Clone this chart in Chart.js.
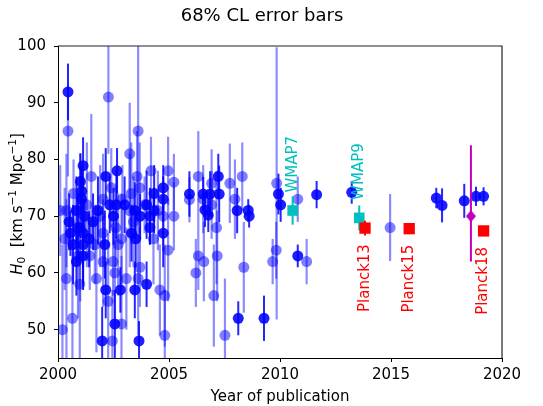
<!DOCTYPE html>
<html>
<head>
<meta charset="utf-8">
<title>H0 measurements</title>
<script src="https://cdn.jsdelivr.net/npm/chart.js@4"></script>
<style>
  html, body { margin: 0; padding: 0; background: #fff; }
</style>
</head>
<body>
<canvas id="h0Chart" width="543" height="406"></canvas>
<script>
// --- axis ticks ---
const xTicks = [2000, 2005, 2010, 2015, 2020];
const yTicks = [50, 60, 70, 80, 90, 100];

// --- individual measurements, lower weight ---
const faintYear = [2000.45, 2002.27, 2003.61, 2003.23, 2003.56, 2003.68, 2004.19, 2004.96, 2005.22, 2000.38,
  2002.03, 2003.23, 2004.74, 2005.22, 2002.03, 2002.86, 2001.66, 2002.71, 2004.96, 2002.03,
  2002.48, 2001.43, 2003.69, 2000.38, 2000.98, 2001.73, 2002.56, 2003.08, 2003.61, 2004.59,
  2004.81, 2002.26, 2000.65, 2002.86, 2002.45, 2004.81, 2000.20, 2000.10, 2000.70, 2001.30,
  2001.90, 2002.40, 2002.90, 2003.40, 2003.90, 2004.30, 2001.00, 2000.30, 2002.60, 2003.30,
  2004.50, 2001.50, 2000.90, 2005.92, 2006.32, 2006.54, 2006.92, 2006.92, 2007.74, 2007.97,
  2008.30, 2007.14, 2006.32, 2006.57, 2006.21, 2007.17, 2007.02, 2007.52, 2008.37, 2009.85,
  2009.83, 2009.67, 2010.80, 2011.20, 2014.96];
const faintH0 = [85.0, 91.0, 85.0, 81.0, 77.0, 75.0, 78.0, 78.0, 76.0, 71.0,
  73.0, 71.0, 70.0, 70.0, 67.0, 66.0, 65.0, 65.0, 64.0, 62.0,
  62.0, 63.0, 61.0, 59.0, 58.0, 59.0, 60.0, 59.0, 59.0, 57.0,
  56.0, 55.0, 52.0, 51.0, 48.0, 49.0, 50.0, 71.0, 74.0, 72.0,
  70.0, 75.0, 73.0, 69.0, 72.0, 66.0, 68.0, 66.0, 68.0, 74.0,
  71.0, 77.0, 63.0, 72.9, 77.0, 73.0, 72.0, 75.8, 75.8, 73.0,
  77.0, 68.0, 63.0, 62.0, 60.0, 63.0, 56.0, 49.0, 61.0, 75.8,
  64.0, 62.0, 73.0, 62.0, 68.0];
const faintErr = [8, 10, 16, 9, 8, 8, 6, 6, 5, 10,
  8, 10, 6, 6, 6, 8, 7, 9, 9, 8,
  6, 6, 7, 14, 13, 13, 8, 9, 10, 8,
  9, 12, 14, 12, 9, 8, 15, 8, 6, 11,
  9, 7, 6, 8, 5, 8, 13, 9, 7, 9,
  7, 11, 11, 4, 8, 6, 6, 6, 7, 7,
  6, 10, 6, 7, 6, 8, 9, 10, 8, 24,
  5, 4, 4, 4, 5.9];

// --- individual measurements, higher weight ---
const strongYear = [2000.45, 2001.13, 2001.01, 2002.15, 2002.66, 2004.74, 2004.33, 2004.74, 2001.07, 2001.06,
  2000.83, 2002.33, 2002.63, 2003.46, 2003.99, 2004.33, 2004.14, 2001.58, 2000.56, 2001.13,
  2003.31, 2004.14, 2004.74, 2000.68, 2001.13, 2002.11, 2003.50, 2000.83, 2001.13, 2002.15,
  2002.81, 2003.46, 2003.99, 2002.56, 2001.99, 2003.65, 2000.50, 2001.20, 2001.80, 2002.50,
  2003.00, 2003.70, 2001.40, 2000.90, 2005.92, 2006.54, 2006.62, 2006.77, 2006.85, 2007.22,
  2007.26, 2008.07, 2008.57, 2008.61, 2008.12, 2009.28, 2009.93, 2010.03, 2010.80, 2011.65,
  2013.23, 2017.04, 2017.30, 2018.30, 2018.83, 2019.17];
const strongH0 = [91.9, 78.9, 76.1, 77.0, 78.0, 75.0, 74.0, 73.0, 74.4, 73.0,
  71.0, 72.0, 72.0, 71.0, 72.0, 71.0, 70.0, 69.0, 67.0, 67.0,
  67.0, 68.0, 67.0, 65.0, 65.0, 65.0, 66.0, 62.0, 63.0, 57.0,
  57.0, 57.0, 58.0, 51.0, 48.0, 48.0, 69.0, 70.0, 71.0, 70.0,
  72.0, 70.0, 66.0, 68.0, 73.9, 73.9, 71.1, 70.2, 73.9, 77.0,
  73.9, 71.0, 71.0, 70.0, 52.0, 52.0, 73.9, 72.0, 63.0, 73.8,
  74.2, 73.2, 71.9, 72.7, 73.5, 73.5];
const strongErr = [5, 5, 5, 5, 4, 4, 5, 4, 4, 6,
  6, 5, 6, 5, 6, 4, 5, 5, 4, 6,
  5, 3, 6, 7, 8, 6, 5, 6, 5, 5,
  4, 5, 4, 6, 6, 3.5, 5, 4, 6, 5,
  5, 4, 5, 6, 4, 3, 3, 3, 4, 4,
  5, 4, 2, 2, 3, 4, 3.6, 3, 2, 2.4,
  2, 1.8, 3, 3, 1.7, 1.6];

// --- CMB results ---
const wmapNames = ['WMAP7', 'WMAP9'];
const wmapYear = [2010.57, 2013.57];
const wmapH0 = [71.0, 69.7];
const wmapErr = [2.5, 2.2];

const planckNames = ['Planck13', 'Planck15', 'Planck18'];
const planckYear = [2013.83, 2015.82, 2019.17];
const planckH0 = [67.9, 67.8, 67.4];
const planckErr = [1.3, 0.9, 0.5];

// --- standard siren (asymmetric errors) ---
const sirenYear = [2018.6];
const sirenH0 = [70.0];
const sirenErrUp = [12.5];
const sirenErrDown = [8.0];

const FONT = '"DejaVu Sans", "Liberation Sans", sans-serif';
const toPoints = (xs, ys) => xs.map((x, i) => ({ x: x, y: ys[i] }));

// thin diamond marker
const diamond = document.createElement('canvas');
diamond.width = 10;
diamond.height = 12;
(() => {
  const c = diamond.getContext('2d');
  c.fillStyle = '#bf00bf';
  c.beginPath();
  c.moveTo(5, 0);
  c.lineTo(10, 6);
  c.lineTo(5, 12);
  c.lineTo(0, 6);
  c.closePath();
  c.fill();
})();

// vertical error bars under each dataset, clipped to the plot area
const errorBars = {
  id: 'errorBars',
  beforeDatasetDraw(chart, args) {
    const ds = chart.data.datasets[args.index];
    if (!ds.errUp) return;
    const { ctx, chartArea, scales: { x, y } } = chart;
    ctx.save();
    ctx.beginPath();
    ctx.rect(chartArea.left, chartArea.top, chartArea.right - chartArea.left, chartArea.bottom - chartArea.top);
    ctx.clip();
    ctx.strokeStyle = ds.barColor;
    ctx.lineWidth = ds.barWidth;
    ds.data.forEach((p, i) => {
      const px = x.getPixelForValue(p.x);
      ctx.beginPath();
      ctx.moveTo(px, y.getPixelForValue(p.y + ds.errUp[i]));
      ctx.lineTo(px, y.getPixelForValue(p.y - ds.errDown[i]));
      ctx.stroke();
    });
    ctx.restore();
  }
};

// rotated names next to the CMB points
const pointNames = {
  id: 'pointNames',
  afterDatasetsDraw(chart) {
    const { ctx, scales: { x, y } } = chart;
    ctx.save();
    ctx.font = '15px ' + FONT;
    ctx.textBaseline = 'middle';
    const put = (names, xs, ys, color, above, gap) => {
      ctx.fillStyle = color;
      ctx.textAlign = above ? 'left' : 'right';
      names.forEach((name, i) => {
        const px = x.getPixelForValue(xs[i]);
        const py = y.getPixelForValue(ys[i]);
        ctx.save();
        ctx.translate(px, above ? py - gap : py + gap);
        ctx.rotate(-Math.PI / 2);
        ctx.fillText(name, 0, 0);
        ctx.restore();
      });
    };
    put(wmapNames, wmapYear, wmapH0, '#00bfbf', true, 18);
    put(planckNames, planckYear, planckH0, '#ff0000', false, 16);
    ctx.restore();
  }
};

// title, axis titles and the top/right frame
const frame = {
  id: 'frame',
  afterDraw(chart) {
    const { ctx, chartArea: a } = chart;
    ctx.save();
    ctx.strokeStyle = '#222';
    ctx.lineWidth = 1.2;
    ctx.beginPath();
    ctx.moveTo(a.left, a.top);
    ctx.lineTo(a.right, a.top);
    ctx.lineTo(a.right, a.bottom);
    ctx.stroke();

    ctx.fillStyle = '#000';
    ctx.textAlign = 'center';
    ctx.textBaseline = 'middle';
    ctx.font = '18px ' + FONT;
    ctx.fillText('68% CL error bars', 262, 16);
    ctx.font = '15px ' + FONT;
    ctx.fillText('Year of publication', (a.left + a.right) / 2, 397);

    // y title: H_0 [km s^-1 Mpc^-1]
    const big = '15px ' + FONT, small = '10.5px ' + FONT;
    const parts = [
      { t: 'H', f: 'italic ' + big, dy: 0 },
      { t: '0', f: small, dy: 3 },
      { t: '  [km s', f: big, dy: 0 },
      { t: '\u22121', f: small, dy: -6 },
      { t: ' Mpc', f: big, dy: 0 },
      { t: '\u22121', f: small, dy: -6 },
      { t: ']', f: big, dy: 0 }
    ];
    let total = 0;
    parts.forEach(p => { ctx.font = p.f; p.w = ctx.measureText(p.t).width; total += p.w; });
    ctx.translate(22, (a.top + a.bottom) / 2 + 2);
    ctx.rotate(-Math.PI / 2);
    ctx.textAlign = 'left';
    ctx.textBaseline = 'alphabetic';
    let cx = -total / 2;
    parts.forEach(p => { ctx.font = p.f; ctx.fillText(p.t, cx, p.dy); cx += p.w; });
    ctx.restore();
  }
};

const ctx = document.getElementById('h0Chart').getContext('2d');
new Chart(ctx, {
  type: 'scatter',
  data: {
    datasets: [
      {
        data: toPoints(faintYear, faintH0),
        errUp: faintErr, errDown: faintErr,
        barColor: 'rgba(0,0,255,0.45)', barWidth: 2.2,
        pointStyle: 'circle', pointRadius: 5.5, borderWidth: 0,
        backgroundColor: 'rgba(0,0,255,0.5)',
        order: 5
      },
      {
        data: toPoints(strongYear, strongH0),
        errUp: strongErr, errDown: strongErr,
        barColor: 'rgba(0,0,255,0.85)', barWidth: 2,
        pointStyle: 'circle', pointRadius: 5.5, borderWidth: 0,
        backgroundColor: 'rgba(0,0,255,0.88)',
        order: 4
      },
      {
        data: toPoints(wmapYear, wmapH0),
        errUp: wmapErr, errDown: wmapErr,
        barColor: '#00bfbf', barWidth: 2,
        pointStyle: 'rect', pointRadius: 7.5, borderWidth: 0,
        backgroundColor: '#00bfbf',
        order: 3
      },
      {
        data: toPoints(planckYear, planckH0),
        errUp: planckErr, errDown: planckErr,
        barColor: '#ff0000', barWidth: 2,
        pointStyle: 'rect', pointRadius: 8, borderWidth: 0,
        backgroundColor: '#ff0000',
        order: 2
      },
      {
        data: toPoints(sirenYear, sirenH0),
        errUp: sirenErrUp, errDown: sirenErrDown,
        barColor: '#bf00bf', barWidth: 2,
        pointStyle: diamond, pointRadius: 6,
        backgroundColor: '#bf00bf',
        order: 1
      }
    ]
  },
  options: {
    responsive: false,
    animation: false,
    layout: { padding: { top: 46, right: 41, left: 0, bottom: 0 } },
    plugins: { legend: { display: false }, tooltip: { enabled: false }, title: { display: false } },
    scales: {
      x: {
        type: 'linear',
        min: 2000,
        max: 2020,
        afterFit: s => { s.height = 48; },
        afterBuildTicks: s => { s.ticks = xTicks.map(v => ({ value: v })); },
        ticks: {
          color: '#000',
          font: { family: FONT, size: 15 },
          padding: 4,
          maxRotation: 0,
          callback: v => String(v)
        },
        grid: { drawOnChartArea: false, tickLength: 4, color: '#000' },
        border: { color: '#000', width: 1 }
      },
      y: {
        type: 'linear',
        min: 45,
        max: 100,
        afterFit: s => { s.width = 58; },
        afterBuildTicks: s => { s.ticks = yTicks.map(v => ({ value: v })); },
        ticks: {
          color: '#000',
          font: { family: FONT, size: 15 },
          padding: 8,
          callback: v => String(v)
        },
        grid: { drawOnChartArea: false, tickLength: 4, color: '#000' },
        border: { color: '#000', width: 1 }
      }
    }
  },
  plugins: [errorBars, pointNames, frame]
});
</script>
</body>
</html>
